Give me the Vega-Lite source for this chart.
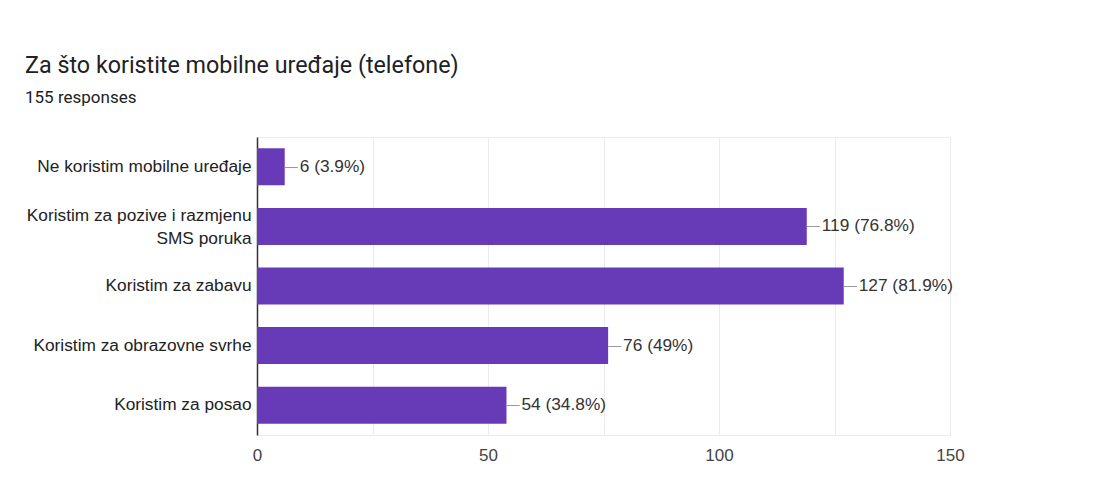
{
  "$schema": "https://vega.github.io/schema/vega-lite/v6.json",
  "autosize": "none",
  "width": 693,
  "height": 298,
  "padding": {"left": 257, "top": 137, "right": 147, "bottom": 44},
  "background": "white",
  "title": {
    "text": "Za što koristite mobilne uređaje (telefone)",
    "subtitle": "155 responses",
    "anchor": "start",
    "frame": "group",
    "dx": -232,
    "offset": 30,
    "font": "Roboto",
    "fontSize": 23.3,
    "fontWeight": "normal",
    "color": "#202124",
    "subtitleFont": "Roboto",
    "subtitleFontSize": 17,
    "subtitleColor": "#202124",
    "subtitlePadding": 12
  },
  "config": {
    "view": {"stroke": "#ebebeb", "strokeWidth": 1},
    "font": "Liberation Sans"
  },
  "data": {
    "values": [
      {"option": "Ne koristim mobilne uređaje", "count": 6, "label": "6 (3.9%)"},
      {"option": "Koristim za pozive i razmjenu|SMS poruka", "count": 119, "label": "119 (76.8%)"},
      {"option": "Koristim za zabavu", "count": 127, "label": "127 (81.9%)"},
      {"option": "Koristim za obrazovne svrhe", "count": 76, "label": "76 (49%)"},
      {"option": "Koristim za posao", "count": 54, "label": "54 (34.8%)"}
    ]
  },
  "encoding": {
    "y": {
      "field": "option",
      "type": "nominal",
      "sort": null,
      "scale": {"paddingInner": 0.38, "paddingOuter": 0.19},
      "axis": {
        "title": null,
        "labelExpr": "split(datum.label, '|')",
        "labelFont": "Liberation Sans",
        "labelFontSize": 17.3,
        "labelColor": "#222222",
        "labelPadding": 6,
        "labelLimit": 300,
        "labelLineHeight": 23,
        "labelOffset": {"condition": {"test": "indexof(datum.value, '|') >= 0", "value": -10}, "value": 0},
        "ticks": false,
        "domain": true,
        "domainColor": "#333333",
        "domainWidth": 1.5,
        "grid": false
      }
    }
  },
  "layer": [
    {
      "mark": {"type": "bar", "color": "#673ab7"},
      "encoding": {
        "x": {
          "field": "count",
          "type": "quantitative",
          "scale": {"domain": [0, 150], "nice": false},
          "axis": {
            "title": null,
            "values": [0, 25, 50, 75, 100, 125, 150],
            "labelExpr": "datum.value % 50 === 0 ? datum.label : ''",
            "labelFont": "Liberation Sans",
            "labelFontSize": 17,
            "labelColor": "#444444",
            "labelPadding": 12,
            "labelFlush": false,
            "ticks": false,
            "domain": false,
            "grid": true,
            "gridColor": "#ebebeb",
            "zindex": 0
          }
        }
      }
    },
    {
      "mark": {"type": "text", "text": "—", "align": "left", "baseline": "middle", "dx": 0, "fontSize": 13, "color": "#999999"},
      "encoding": {
        "x": {"field": "count", "type": "quantitative"}
      }
    },
    {
      "mark": {"type": "text", "align": "left", "baseline": "middle", "dx": 15, "fontSize": 17.3, "color": "#333333", "font": "Liberation Sans"},
      "encoding": {
        "x": {"field": "count", "type": "quantitative"},
        "text": {"field": "label"}
      }
    }
  ]
}
